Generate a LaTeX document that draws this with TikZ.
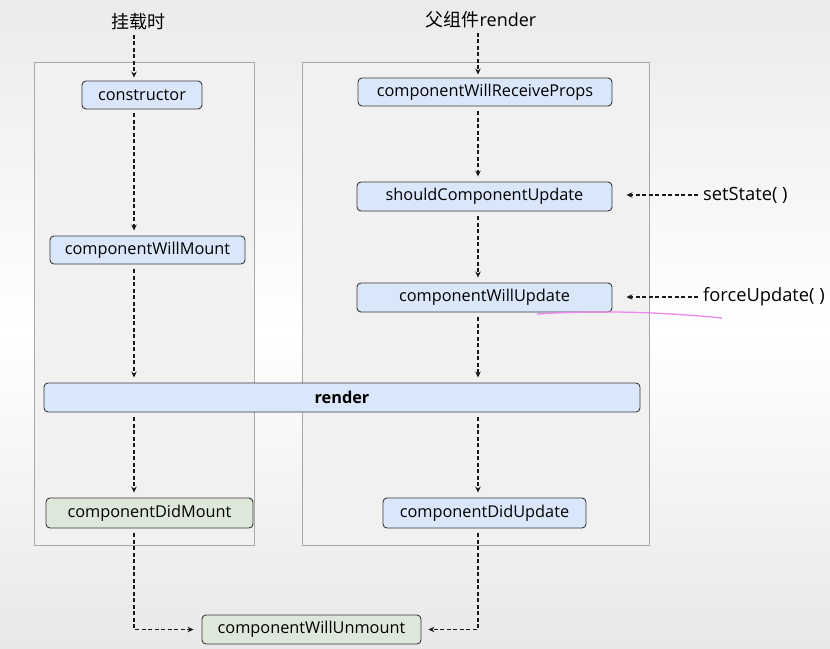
\documentclass[tikz,border=0pt]{standalone}
\usepackage{fontspec}
\setmainfont{Open Sans}
\newfontfamily\cjk{Noto Sans CJK SC}
\usetikzlibrary{arrows.meta}
\definecolor{boxblue}{HTML}{DAE7FA}
\definecolor{boxgreen}{HTML}{DEE8DA}
\definecolor{panel}{HTML}{F1F1F1}
\definecolor{panelline}{HTML}{A8A8A8}
\definecolor{edge}{HTML}{383838}
\definecolor{penmark}{HTML}{EE88EE}
\begin{document}
\begin{tikzpicture}[x=1pt,y=-1pt,
  stage/.style={draw=edge, line width=0.9pt, rounded corners=4pt, fill=boxblue,
    inner sep=0pt, font=\fontsize{16.3}{19}\selectfont},
  stagegreen/.style={stage, fill=boxgreen},
  flow/.style={draw=black!90, line width=1.9pt, dash pattern=on 4pt off 2.5pt,
    -{Stealth[length=6pt,width=5.5pt]}},
  panelbox/.style={draw=panelline, fill=panel, line width=0.8pt},
  side/.style={font=\fontsize{18.3}{21}\selectfont, anchor=west, inner sep=0pt},
  toplabel/.style={font=\fontsize{18}{21}\selectfont, inner sep=0pt}]
\useasboundingbox (0,0) rectangle (830,648);
\shade[top color=black!8, bottom color=white] (0,0) rectangle (830,330);
\shade[top color=white, bottom color=black!9] (0,330) rectangle (830,648);

% panels
\draw[panelbox] (34,62) rectangle (254,545);
\draw[panelbox] (302,62) rectangle (649,545);

\coordinate (lx) at (134,0);
\coordinate (rx) at (478,0);

% nodes
\node[toplabel] (mountlbl) at (138,22) {\cjk 挂载时};
\node[toplabel] (parentlbl) at (481,20) {\cjk 父组件\rmfamily render};

\node[stage, minimum width=120pt, minimum height=28pt] (cons) at (142,95) {constructor};
\node[stage, minimum width=195pt, minimum height=28pt] (wm) at (147.5,250) {componentWillMount};
\node[stage, minimum width=596pt, minimum height=29pt, font=\fontsize{16.3}{19}\selectfont\bfseries] (rend) at (342,397.5) {render};
\node[stagegreen, minimum width=207pt, minimum height=30pt] (dm) at (149.5,513) {componentDidMount};

\node[stage, minimum width=254pt, minimum height=28pt] (wrp) at (485,92) {componentWillReceiveProps};
\node[stage, minimum width=255pt, minimum height=29pt] (scu) at (484.5,196.5) {shouldComponentUpdate};
\node[stage, minimum width=255pt, minimum height=29pt] (wup) at (484.5,297.5) {componentWillUpdate};
\node[stage, minimum width=203pt, minimum height=30pt] (du) at (484.5,513) {componentDidUpdate};

\node[stagegreen, minimum width=219pt, minimum height=29pt] (wu) at (311.5,629.5) {componentWillUnmount};

\node[side] (setst) at (703,195) {setState( )};
\node[side] (force) at (703,297) {forceUpdate( )};

% connectors left
\draw[flow, shorten <=4pt, shorten >=3pt] (mountlbl.south -| lx) -- (cons.north -| lx);
\draw[flow, shorten <=4pt, shorten >=5pt] (cons.south -| lx) -- (wm.north -| lx);
\draw[flow, shorten <=5pt, shorten >=5pt] (wm.south -| lx) -- (rend.north -| lx);
\draw[flow, shorten <=5pt, shorten >=5pt] (rend.south -| lx) -- (dm.north -| lx);
\draw[flow, shorten <=5pt, shorten >=8pt] (dm.south -| lx) |- (wu.west);

% connectors right
\draw[flow, shorten <=4pt, shorten >=3pt] (parentlbl.south -| rx) -- (wrp.north -| rx);
\draw[flow, shorten <=5pt, shorten >=5pt] (wrp.south -| rx) -- (scu.north -| rx);
\draw[flow, shorten <=5pt, shorten >=5pt] (scu.south -| rx) -- (wup.north -| rx);
\draw[flow, shorten <=5pt, shorten >=5pt] (wup.south -| rx) -- (rend.north -| rx);
\draw[flow, shorten <=5pt, shorten >=5pt] (rend.south -| rx) -- (du.north -| rx);
\draw[flow, shorten <=5pt, shorten >=7pt] (du.south -| rx) |- (wu.east);

\draw[flow, shorten <=5pt, shorten >=14pt] (setst.west) -- (setst.west -| scu.east);
\draw[flow, shorten <=5pt, shorten >=14pt] (force.west) -- (force.west -| wup.east);

% pen mark
\draw[penmark, line width=1.3pt] (537,314) .. controls (600,310) and (660,312) .. (722,318);
\end{tikzpicture}
\end{document}
